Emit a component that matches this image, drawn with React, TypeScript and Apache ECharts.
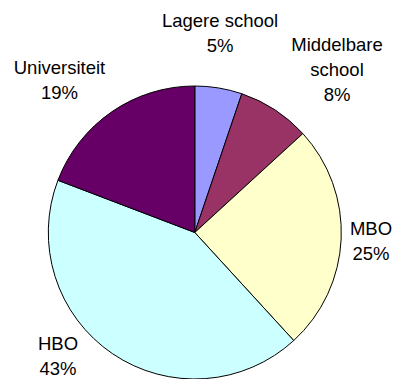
import React, { useEffect, useRef } from "react";
import * as echarts from "echarts";

const categories = ["Lagere school", "Middelbare\nschool", "MBO", "HBO", "Universiteit"];
const values = [5.2, 8.0, 25.0, 42.6, 19.2];
const colors = ["#9999FF", "#993366", "#FFFFCC", "#CCFFFF", "#660066"];
// label centre positions (layout only)
const labelPos: [number, number][] = [
  [220, 33],
  [337, 69.5],
  [371, 241],
  [58, 356],
  [59.5, 80],
];

export default function App() {
  const ref = useRef<HTMLDivElement>(null);
  useEffect(() => {
    if (!ref.current) return;
    const chart = echarts.init(ref.current, null, { renderer: "svg" });
    chart.setOption({
      animation: false,
      backgroundColor: "#ffffff",
      series: [
        {
          type: "pie",
          center: [194.8, 232.5],
          radius: 146.5,
          startAngle: 90,
          clockwise: true,
          avoidLabelOverlap: false,
          data: categories.map((c, i) => ({
            name: c,
            value: values[i],
            itemStyle: { color: colors[i] },
          })),
          itemStyle: { borderColor: "#000000", borderWidth: 1 },
          emphasis: { disabled: true },
          label: {
            show: true,
            position: "inside",
            color: "#000000",
            fontFamily: "Liberation Sans, Arial, sans-serif",
            fontSize: 18.5,
            lineHeight: 25,
            align: "center",
            overflow: "none",
            formatter: (p: any) => `${p.name}\n${Math.round(p.percent)}%`,
          },
          labelLine: { show: false },
          labelLayout: (p: any) => ({
            x: labelPos[p.dataIndex][0],
            y: labelPos[p.dataIndex][1],
            align: "center",
            verticalAlign: "middle",
            hideOverlap: false,
          }),
        },
      ],
    });
    return () => chart.dispose();
  }, []);
  return (
    <div
      ref={ref}
      style={{ position: "fixed", left: 0, top: 0, width: 397, height: 379 }}
    />
  );
}
